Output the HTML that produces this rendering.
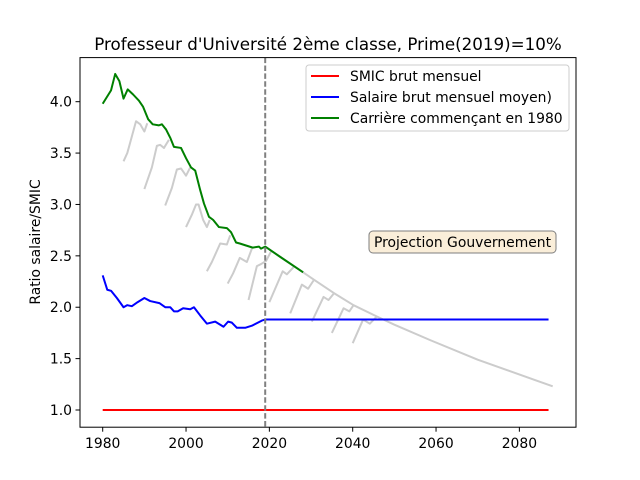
<!DOCTYPE html>
<html><head><meta charset="utf-8"><style>
html,body{margin:0;padding:0;background:#fff;}
svg{display:block;font-family:"DejaVu Sans","Liberation Sans",sans-serif;}
</style></head><body>
<svg id="chart" width="640" height="480" viewBox="0 0 640 480" xmlns="http://www.w3.org/2000/svg">
<rect width="640" height="480" fill="#fff"/>
<text x="328" y="50" text-anchor="middle" font-size="16.7">Professeur d'Université 2ème classe, Prime(2019)=10%</text>
<g id="plot"></g>
<rect x="80" y="57.6" width="496" height="369.6" fill="none" stroke="#000" stroke-width="1"/>
<g id="xticks"></g>
<g id="yticks"></g>
<text transform="translate(40,242) rotate(-90)" text-anchor="middle" font-size="13.9">Ratio salaire/SMIC</text>
<g>
<rect x="306" y="65" width="263" height="66" rx="3" fill="#fff" fill-opacity="0.8" stroke="#ccc"/>
<line x1="311" y1="76" x2="339" y2="76" stroke="red" stroke-width="2"/>
<text x="350" y="81" font-size="13.9">SMIC brut mensuel</text>
<line x1="311" y1="97" x2="339" y2="97" stroke="blue" stroke-width="2"/>
<text x="350" y="102" font-size="13.9">Salaire brut mensuel moyen)</text>
<line x1="311" y1="118" x2="339" y2="118" stroke="green" stroke-width="2"/>
<text x="350" y="123" font-size="13.9">Carrière commençant en 1980</text>
</g>
<g>
<rect x="369" y="231" width="187" height="22" rx="4" fill="#faeed9" stroke="#7f7f7f"/>
<text x="462.5" y="247" text-anchor="middle" font-size="13.9">Projection Gouvernement</text>
</g>
</svg>
<script>
const xTicks = [1980, 2000, 2020, 2040, 2060, 2080];
const yTicks = [1.0, 1.5, 2.0, 2.5, 3.0, 3.5, 4.0];
const smicYears = [1980, 2087];
const smicValues = [1.0, 1.0];
const salaireYears = [1980,1981.1,1982,1983.4,1985,1985.9,1987,1988.4,1990,1991.4,1993.6,1995,1996.2,1997.1,1998,1999.3,2001,2001.9,2003.4,2005,2007,2009,2010.1,2011,2012.2,2014.2,2015.8,2018.2,2019,2087];
const salaireValues = [2.31,2.17,2.16,2.09,2.00,2.02,2.01,2.05,2.09,2.06,2.04,2.00,2.00,1.96,1.96,1.99,1.98,2.00,1.92,1.84,1.86,1.81,1.86,1.85,1.80,1.80,1.82,1.87,1.88,1.88];
const greenYears = [1980,1982,1983,1984,1985,1986,1987.3,1988.7,1989.7,1990.9,1992,1993.5,1994.2,1995.2,1996.2,1997.1,1998.8,2000,2001.2,2002.2,2003.4,2004.3,2005.5,2006.5,2007.9,2009.8,2010.8,2012,2012.9,2016,2017.5,2018,2019,2022.6,2028.1];
const greenValues = [3.98,4.11,4.27,4.20,4.03,4.12,4.07,4.01,3.95,3.83,3.78,3.77,3.78,3.73,3.65,3.56,3.55,3.45,3.36,3.33,3.14,3.01,2.88,2.85,2.78,2.77,2.73,2.63,2.62,2.58,2.59,2.57,2.59,2.49,2.34];
const envelopeYears = [2019,2022.6,2028.1,2030.6,2035.4,2040.2,2045.8,2050,2058.6,2070,2088];
const envelopeValues = [2.59,2.49,2.34,2.27,2.14,2.02,1.91,1.83,1.68,1.49,1.23];
const career1985Years = [1985,1985.9,1988,1989,1990,1990.7];
const career1985Values = [3.42,3.50,3.81,3.78,3.71,3.79];
const career1990Years = [1990,1991.8,1993,1993.8,1994.7,1995.9];
const career1990Values = [3.15,3.36,3.57,3.58,3.55,3.63];
const career1995Years = [1995,1996.6,1997.8,1998.8,2000,2001];
const career1995Values = [2.99,3.16,3.34,3.35,3.28,3.36];
const career2000Years = [2000,2001.4,2002.4,2003,2004.1,2005,2005.7];
const career2000Values = [2.78,2.90,3.00,3.00,2.85,2.78,2.85];
const career2005Years = [2005,2006.2,2008.2,2009.8,2010.6];
const career2005Values = [2.35,2.44,2.62,2.61,2.70];
const career2010Years = [2010,2011.3,2012.9,2014.6,2015.8];
const career2010Values = [2.23,2.33,2.48,2.44,2.57];
const career2015Years = [2015,2017,2018,2019.2,2020.5];
const career2015Values = [2.07,2.40,2.42,2.45,2.55];
const career2020Years = [2020,2023.2,2024.2,2025.8];
const career2020Values = [2.05,2.35,2.32,2.39];
const career2025Years = [2025,2027.8,2029.3,2030.6];
const career2025Values = [1.94,2.22,2.18,2.26];
const career2030Years = [2030.2,2033,2034.2,2035.4];
const career2030Values = [1.86,2.10,2.07,2.13];
const career2035Years = [2035,2037.8,2039.2,2040.2];
const career2035Values = [1.75,1.99,1.96,2.02];
const career2040Years = [2040,2042.5,2044.1,2045.8];
const career2040Values = [1.65,1.88,1.84,1.91];
const dashedYear = 2019;

const NS = 'http://www.w3.org/2000/svg';
function xs(y){ return 102.7 + (y - 1980) * 4.1667; }
function ys(v){ return 410 - (v - 1.0) * 102.77; }
const plot = document.getElementById('plot');
function line(years, vals, color, name){
  const p = document.createElementNS(NS, 'polyline');
  p.setAttribute('points', years.map((y,i)=>xs(y).toFixed(2)+','+ys(vals[i]).toFixed(2)).join(' '));
  p.setAttribute('fill','none');
  p.setAttribute('stroke',color);
  p.setAttribute('stroke-width','2');
  p.setAttribute('stroke-linejoin','round');
  
  
  plot.appendChild(p);
}
const careers = [
 [career1985Years,career1985Values,'career-1985'],[career1990Years,career1990Values,'career-1990'],
 [career1995Years,career1995Values,'career-1995'],[career2000Years,career2000Values,'career-2000'],
 [career2005Years,career2005Values,'career-2005'],[career2010Years,career2010Values,'career-2010'],
 [career2015Years,career2015Values,'career-2015'],[career2020Years,career2020Values,'career-2020'],
 [career2025Years,career2025Values,'career-2025'],[career2030Years,career2030Values,'career-2030'],
 [career2035Years,career2035Values,'career-2035'],[career2040Years,career2040Values,'career-2040']];
careers.forEach(c=>line(c[0],c[1],'#cccccc',c[2]));
line(envelopeYears, envelopeValues, '#cccccc', 'projection-envelope-line');
line(smicYears, smicValues, 'red', 'smic-line');
line(salaireYears, salaireValues, 'blue', 'salaire-moyen-line');
line(greenYears, greenValues, 'green', 'carriere-1980-line');
const dl = document.createElementNS(NS,'line');
dl.setAttribute('x1', xs(dashedYear)); dl.setAttribute('x2', xs(dashedYear));
dl.setAttribute('y1', 57.6); dl.setAttribute('y2', 427.2);
dl.setAttribute('stroke','#808080'); dl.setAttribute('stroke-width','2'); dl.setAttribute('stroke-dasharray','5.5,2.4');


plot.appendChild(dl);

const xg = document.getElementById('xticks');
xTicks.forEach(t=>{
  const x = xs(t);
  const l = document.createElementNS(NS,'line');
  l.setAttribute('x1',x); l.setAttribute('x2',x); l.setAttribute('y1',427.2); l.setAttribute('y2',431.7);
  l.setAttribute('stroke','#000');
  
  
  xg.appendChild(l);
  const tx = document.createElementNS(NS,'text');
  tx.setAttribute('x',x); tx.setAttribute('y',448); tx.setAttribute('text-anchor','middle'); tx.setAttribute('font-size','13.9');
  tx.textContent = t;
  
  
  xg.appendChild(tx);
});
const yg = document.getElementById('yticks');
yTicks.forEach(t=>{
  const y = ys(t);
  const l = document.createElementNS(NS,'line');
  l.setAttribute('x1',75.5); l.setAttribute('x2',80); l.setAttribute('y1',y); l.setAttribute('y2',y);
  l.setAttribute('stroke','#000');
  
  
  yg.appendChild(l);
  const tx = document.createElementNS(NS,'text');
  tx.setAttribute('x',72); tx.setAttribute('y',y+5); tx.setAttribute('text-anchor','end'); tx.setAttribute('font-size','13.9');
  tx.textContent = t.toFixed(1);
  
  
  yg.appendChild(tx);
});
</script>
</body></html>
